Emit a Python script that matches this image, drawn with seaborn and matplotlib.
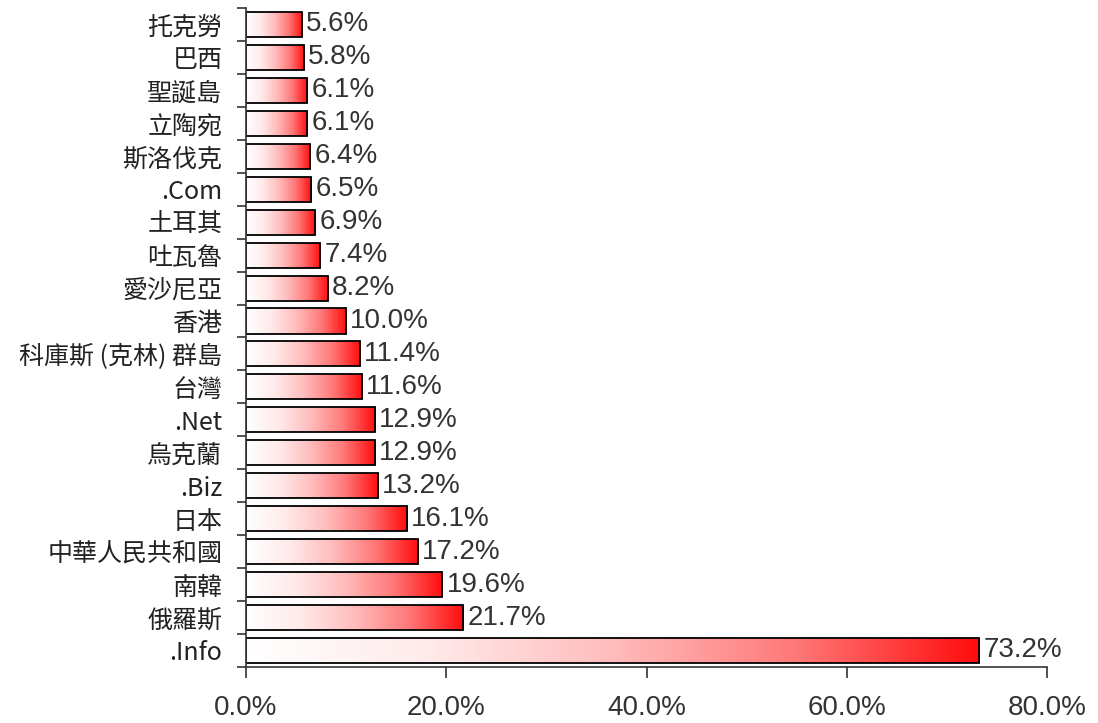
import numpy as np
import matplotlib
matplotlib.use("Agg")
import matplotlib.pyplot as plt
import seaborn as sns
from matplotlib.colors import LinearSegmentedColormap
from matplotlib.ticker import FixedLocator, StrMethodFormatter

# share of domains, top to bottom as in the chart
categories = ["托克勞", "巴西", "聖誕島", "立陶宛", "斯洛伐克", ".Com", "土耳其",
              "吐瓦魯", "愛沙尼亞", "香港", "科庫斯 (克林) 群島", "台灣", ".Net",
              "烏克蘭", ".Biz", "日本", "中華人民共和國", "南韓", "俄羅斯", ".Info"]
values = [5.6, 5.8, 6.1, 6.1, 6.4, 6.5, 6.9, 7.4, 8.2, 10.0, 11.4, 11.6, 12.9,
          12.9, 13.2, 16.1, 17.2, 19.6, 21.7, 73.2]
x_ticks = [0, 20, 40, 60, 80]

sns.set_style("ticks")
plt.rcParams["font.family"] = ["Liberation Sans", "Noto Sans CJK TC", "DejaVu Sans"]

fig = plt.figure(figsize=(10.98, 7.23), dpi=100)
ax = fig.add_axes([0.224, 0.0775, 0.7296, 0.9115])

sns.barplot(x=values, y=categories, orient="h", color="white",
            edgecolor="black", linewidth=1.3, width=0.76, ax=ax)

# white -> red gradient inside each bar
cmap = LinearSegmentedColormap.from_list(
    "wr", ["#ffffff", "#ffeaea", "#ffbcbc", "#ff7878", "#ff0c0c"])
grad = np.linspace(0, 1, 256).reshape(1, -1)
for bar in ax.patches:
    x0, y0 = bar.get_x(), bar.get_y()
    w, h = bar.get_width(), bar.get_height()
    im = ax.imshow(grad, cmap=cmap, aspect="auto", extent=[x0, x0 + w, y0 + h, y0],
                   zorder=0.5, interpolation="bilinear")
    im.set_clip_path(bar)
    bar.set_facecolor("none")
    bar.set_zorder(2)

ax.bar_label(ax.containers[0], labels=[f"{v:.1f}%" for v in values], padding=3,
             fontsize=20, color="#333333", family="Liberation Sans")

ax.set_xlim(0, 80)
ax.set_ylim(len(categories) - 0.5, -0.5)
ax.xaxis.set_major_locator(FixedLocator(x_ticks))
ax.xaxis.set_major_formatter(StrMethodFormatter("{x:.1f}%"))
ax.tick_params(axis="x", length=8, width=1.2, color="#333333", pad=12,
               labelsize=20, labelcolor="#333333")
ax.yaxis.set_minor_locator(FixedLocator(np.arange(-0.5, len(categories), 1.0)))
ax.tick_params(axis="y", which="major", length=0, pad=17)
ax.tick_params(axis="y", which="minor", length=6.5, width=1.2, color="#333333")
for lab in ax.get_yticklabels():
    lab.set_fontfamily(["Noto Sans CJK TC", "DejaVu Sans"])
    lab.set_fontsize(18)
    lab.set_color("#222222")

sns.despine(ax=ax)
for s in ("left", "bottom"):
    ax.spines[s].set_linewidth(1.2)
    ax.spines[s].set_color("#333333")
ax.set_xlabel("")
ax.set_ylabel("")

fig.savefig("out.png", dpi=100)
